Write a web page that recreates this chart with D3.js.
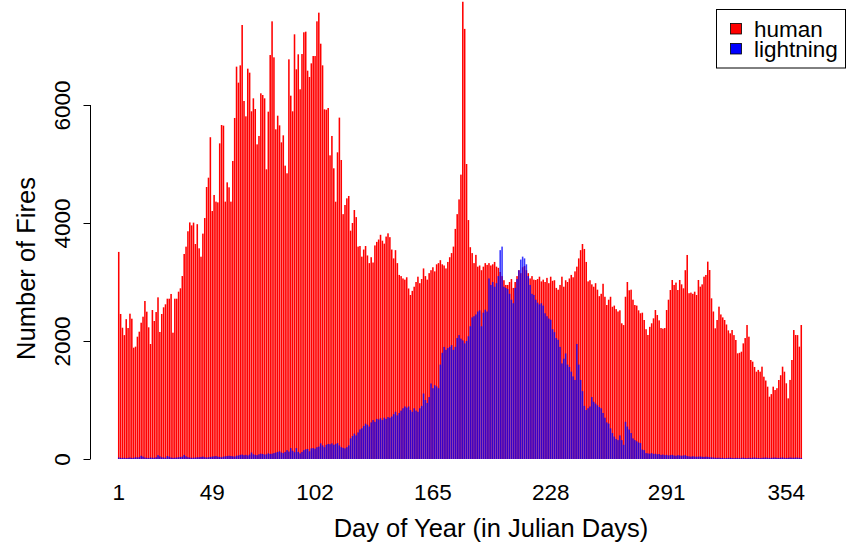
<!DOCTYPE html>
<html>
<head>
<meta charset="utf-8">
<script src="https://cdn.jsdelivr.net/npm/d3@7/dist/d3.min.js"></script>
<style>
  html, body { margin: 0; padding: 0; background: #fff; }
  svg { display: block; font-family: "Liberation Sans", Arial, Helvetica, sans-serif; }
</style>
</head>
<body>
<svg id="chart" width="847" height="544"></svg>
<script>
// ---- data ----
const days = d3.range(1, 367);

const human = [
  3510,2458,2225,2100,2370,2220,2463,2378,1887,1904,
  2073,2158,2310,2412,2678,2497,2232,1949,2525,2339,
  2491,2740,2153,2458,2571,2622,2717,2717,2797,2141,
  2717,2717,2836,2893,3101,3475,3599,3860,4010,3960,
  4006,3644,3980,3571,3429,3820,4084,4610,4768,5454,
  4203,4475,4362,4350,5350,5661,5650,4362,4689,4605,
  4362,5051,5780,6650,6379,6672,7356,6068,5808,6616,
  6548,5893,6113,5932,5333,5475,6198,6169,6113,4910,
  5887,6847,7418,6808,5588,5819,5655,5367,5486,4972,
  4842,6774,6158,5893,7198,6605,6859,6266,6864,7232,
  7243,6582,6475,6706,6830,6830,7418,7565,7039,6672,
  5927,5920,5949,5147,5475,4927,4361,5198,5786,5068,
  4150,4305,4418,4458,3870,4000,4220,4100,3600,3610,
  3430,3550,3610,3450,3320,3420,3330,3620,3680,3720,
  3800,3700,3650,3770,3825,3760,3550,3400,3540,3320,
  3120,3100,3060,3040,3080,2890,2780,2850,2920,3000,
  3090,2980,3050,3230,3100,3040,3150,3200,3250,3180,
  3300,3320,3370,3300,3280,3230,3340,3420,3490,3600,
  3900,4150,4400,4820,7750,7290,5000,4050,3590,3490,
  3320,3460,3260,3280,3200,3260,3320,3290,3320,3280,
  3300,3340,3260,3240,3170,3100,3030,2950,2950,3000,
  3050,2900,3000,3100,3200,3150,3250,3270,3200,3150,
  3060,3100,3040,3034,3050,3090,3010,3040,3000,3070,
  2980,3090,3020,3030,2900,2870,2950,3090,2920,3030,
  3000,3060,3120,3080,3180,3260,3400,3540,3644,3560,
  3340,3010,3030,2960,2920,2980,2870,2760,2800,2970,
  2750,2610,2700,2750,2580,2600,2540,2500,2520,2300,
  2270,2750,3000,2860,2870,2700,2610,2600,2520,2470,
  2480,2356,2200,2102,2240,2300,2384,2525,2440,2350,
  2220,2210,2220,2525,2700,2864,3034,2950,2990,2864,
  3034,2960,2893,3200,3458,2810,2820,2800,2836,2780,
  3034,2921,2960,3090,3119,3345,3203,2723,2500,2215,
  2356,2582,2450,2400,2356,2280,2180,2130,2186,2100,
  2017,1791,1800,1819,1960,2050,2271,2073,1678,1650,
  1560,1480,1510,1480,1565,1395,1330,1226,1056,1100,
  1226,1169,1200,1339,1420,1565,1480,1283,1028,1340,
  1678,2186,2102,2100,1904,2271
];

const lightning = [
  25,20,18,22,15,20,25,18,20,30,
  25,30,55,40,25,20,18,25,22,20,
  30,65,45,30,25,22,50,40,25,20,
  22,25,30,35,40,70,45,30,25,20,
  22,25,28,30,35,40,30,25,30,35,
  40,45,50,40,35,30,40,45,50,55,
  50,45,40,55,60,70,75,65,70,60,
  75,110,80,70,65,80,90,85,75,80,
  95,85,90,100,110,120,130,110,100,120,
  150,125,185,140,115,185,120,95,120,150,
  165,170,130,180,185,175,200,210,265,230,
  200,240,255,250,265,240,255,270,230,200,
  190,180,200,230,350,390,430,400,450,500,
  520,560,600,580,550,620,660,630,680,670,
  690,660,700,680,710,700,720,760,800,740,
  780,820,860,890,870,890,830,800,860,820,
  800,860,900,1110,1000,950,1050,1280,1200,1250,
  1230,1200,1600,1800,1900,1850,1880,1900,1930,1850,
  1900,2050,2100,2040,2010,1960,2000,2080,2250,2400,
  2420,2450,2500,2520,2250,2480,2530,2500,3060,2950,
  3000,2920,2980,3100,3540,3600,2920,2900,2880,2800,
  2700,2640,2900,3050,3200,3380,3430,3400,3300,3100,
  2950,2800,2780,2700,2650,2620,2640,2600,2470,2420,
  2380,2360,2200,2150,2050,2020,1900,1620,1700,1790,
  1600,1560,1480,1400,1340,1950,1600,1340,1150,900,
  830,860,890,1050,970,940,910,880,860,780,
  700,620,600,520,440,380,340,320,400,320,
  240,630,550,500,440,350,320,300,280,270,
  160,150,100,95,90,100,85,90,80,85,
  70,75,65,70,60,65,70,60,55,65,
  60,55,60,65,50,45,40,45,40,38,
  40,42,38,35,40,36,30,28,25,22,
  20,22,18,20,15,18,20,22,18,15,
  20,18,15,20,22,18,15,20,18,22,
  25,20,18,15,20,22,25,20,18,20,
  22,25,20,18,22,25,20,18,20,25,
  22,20,25,22,20,18
];

const yTicks = [0, 2000, 4000, 6000];
const xTickLabels = ["1", "49", "102", "165", "228", "291", "354"];
const xTickAt = [1, 51, 106, 169, 232, 294, 358];
const seriesNames = ["human", "lightning"];
const seriesColors = ["#ff0000", "#0000ff"];

// ---- layout ----
const svg = d3.select("#chart");
svg.append("rect").attr("width", 847).attr("height", 544).attr("fill", "#fff");

const x = d3.scaleBand().domain(days).range([117.8, 802.2]).paddingInner(0.17).paddingOuter(0.085);
const y = d3.scaleLinear().domain([0, 6000]).range([459, 105]);

// human bars
svg.append("g").selectAll("rect").data(days).join("rect")
  .attr("x", d => x(d))
  .attr("width", x.bandwidth())
  .attr("y", (d, i) => y(human[i]))
  .attr("height", (d, i) => y(0) - y(human[i]))
  .attr("fill", seriesColors[0]);

// lightning bars (semi-transparent overlay)
svg.append("g").selectAll("rect").data(days).join("rect")
  .attr("x", d => x(d))
  .attr("width", x.bandwidth())
  .attr("y", (d, i) => y(lightning[i]))
  .attr("height", (d, i) => y(0) - y(lightning[i]))
  .attr("fill", seriesColors[1])
  .attr("fill-opacity", 0.78);

// y axis
const yAxis = d3.axisLeft(y).tickValues(yTicks).tickSize(7).tickPadding(0).tickFormat(d3.format("d"));
const gy = svg.append("g").attr("transform", "translate(90.5,0)").call(yAxis);
gy.select(".domain").attr("d", `M0,${y(0)}V${y(6000)}`).attr("stroke", "#000");
gy.selectAll(".tick line").attr("stroke", "#000");
gy.selectAll(".tick text")
  .attr("font-size", 22.5)
  .attr("font-family", "Liberation Sans, Arial, sans-serif")
  .attr("fill", "#000")
  .attr("text-anchor", "middle")
  .attr("x", null).attr("dy", null)
  .attr("transform", "translate(-21,0) rotate(-90)");

// x axis labels (no line, no ticks)
const xAxis = d3.axisBottom(x).tickValues(xTickAt)
  .tickFormat((d, i) => xTickLabels[i]).tickSize(0).tickPadding(0);
const gx = svg.append("g").call(xAxis);
gx.select(".domain").remove();
gx.selectAll(".tick text")
  .attr("font-size", 22.5)
  .attr("font-family", "Liberation Sans, Arial, sans-serif")
  .attr("fill", "#000")
  .attr("y", 500).attr("dy", null);

// axis titles
svg.append("text")
  .attr("x", 491).attr("y", 536.5)
  .attr("text-anchor", "middle")
  .attr("font-size", 25.5)
  .attr("fill", "#000")
  .text("Day of Year (in Julian Days)");

svg.append("text")
  .attr("transform", "translate(34.5,268.5) rotate(-90)")
  .attr("text-anchor", "middle")
  .attr("font-size", 25.5)
  .attr("fill", "#000")
  .text("Number of Fires");

// legend
const lg = svg.append("g");
lg.append("rect").attr("x", 716.5).attr("y", 9.5).attr("width", 129).attr("height", 58.5)
  .attr("fill", "#fff").attr("stroke", "#000").attr("stroke-width", 1);
seriesNames.forEach((name, i) => {
  lg.append("rect").attr("x", 730.5).attr("y", 23.5 + i * 20).attr("width", 11).attr("height", 10.5)
    .attr("fill", seriesColors[i]).attr("stroke", "#000").attr("stroke-width", 0.8);
  lg.append("text").attr("x", 754).attr("y", 36.5 + i * 20.5)
    .attr("font-size", 22.5).attr("fill", "#000").text(name);
});
</script>
</body>
</html>
